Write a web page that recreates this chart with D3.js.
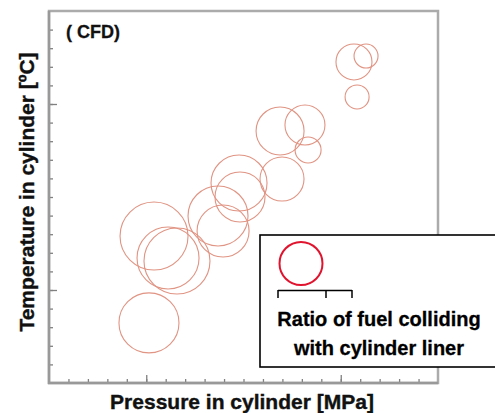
<!DOCTYPE html>
<html><head><meta charset="utf-8">
<script src="https://cdn.jsdelivr.net/npm/d3@7"></script>
<style>
html,body{margin:0;padding:0;background:#fff;}
text{font-family:"Liberation Sans",Arial,sans-serif;font-weight:bold;}
</style></head>
<body><svg id="c" width="495" height="413"></svg>
<script>
// pressure (arbitrary units, minor tick = 1)
const pressure = [5.14, 5.40, 6.12, 6.58, 8.69, 8.95, 9.77, 9.82, 11.98, 11.88, 13.16, 13.32, 15.68, 16.30, 15.84];
// temperature (arbitrary units, minor tick = 1)
const temperature = [3.23, 7.90, 6.72, 6.56, 8.98, 8.17, 10.75, 10.00, 10.97, 13.55, 13.87, 12.53, 17.26, 17.58, 15.38];
// ratio of fuel colliding with cylinder liner (%)
const ratio = [60, 68, 62, 66, 60, 52, 56, 50, 44, 48, 40, 26, 36, 24, 24];
const minorTicks = d3.range(1, 20);
const majorTicks = [5, 15];
const legendRatio = 43;
const legendBracket = [0, 48, 74];
const xTitle = "Pressure in cylinder [MPa]";
const yTitle = "Temperature in cylinder [ºC]";
const tag = "( CFD)";
const legendLines = ["Ratio of fuel colliding", "with cylinder liner"];

const svg = d3.select("#c");
const L = 49, R = 438, T = 11, B = 383;
const x = d3.scaleLinear().domain([0, 20]).range([L, R]);
const y = d3.scaleLinear().domain([0, 20]).range([B, T]);
const r = d3.scaleLinear().domain([0, 100]).range([0, 50]);

// frame
svg.append("rect").attr("x", L).attr("y", T).attr("width", R - L).attr("height", B - T)
  .attr("fill", "#fff").attr("stroke", "#ababab").attr("stroke-width", 2.5);

// axes ticks (inside)
const axisColor = "#808080";
function styleAxis(g) {
  g.select(".domain").remove();
  g.selectAll("line").attr("stroke", axisColor).attr("stroke-width", 1.3);
}
svg.append("g").attr("transform", `translate(${L},0)`)
  .call(d3.axisLeft(y).tickValues(minorTicks).tickSize(-4).tickFormat("")).call(styleAxis);
svg.append("g").attr("transform", `translate(${L},0)`)
  .call(d3.axisLeft(y).tickValues(majorTicks).tickSize(-8).tickFormat("")).call(styleAxis);
svg.append("g").attr("transform", `translate(0,${B})`)
  .call(d3.axisBottom(x).tickValues(minorTicks).tickSize(-4).tickFormat("")).call(styleAxis);
svg.append("g").attr("transform", `translate(0,${B})`)
  .call(d3.axisBottom(x).tickValues(majorTicks).tickSize(-8).tickFormat("")).call(styleAxis);
svg.append("line").attr("x1", L).attr("x2", L).attr("y1", T).attr("y2", B + 1)
  .attr("stroke", "#999").attr("stroke-width", 2.5);
svg.append("line").attr("x1", L - 1).attr("x2", R).attr("y1", B).attr("y2", B)
  .attr("stroke", "#999").attr("stroke-width", 2.5);

// bubbles
svg.append("g").selectAll("circle").data(pressure).join("circle")
  .attr("cx", (d, i) => x(d)).attr("cy", (d, i) => y(temperature[i]))
  .attr("r", (d, i) => r(ratio[i]))
  .attr("fill", "none").attr("stroke", "#e09483").attr("stroke-width", 1.1);

// tag
svg.append("text").attr("x", 66).attr("y", 38).attr("font-size", 18).attr("fill", "#111")
  .attr("stroke", "#111").attr("stroke-width", 0.3).text(tag);

// axis titles
svg.append("text").attr("x", 242).attr("y", 409).attr("text-anchor", "middle")
  .attr("font-size", 21).attr("fill", "#111").attr("stroke", "#111").attr("stroke-width", 0.4).text(xTitle);
svg.append("text").attr("transform", "translate(34,192) rotate(-90)").attr("text-anchor", "middle")
  .attr("font-size", 21).attr("fill", "#111").attr("stroke", "#111").attr("stroke-width", 0.4).text(yTitle);

// legend
const lg = svg.append("g");
lg.append("rect").attr("x", 260).attr("y", 235).attr("width", 245).attr("height", 132)
  .attr("fill", "#fff").attr("stroke", "#000").attr("stroke-width", 1.6);
lg.append("circle").attr("cx", 301).attr("cy", 263.5).attr("r", r(legendRatio))
  .attr("fill", "none").attr("stroke", "#e0142e").attr("stroke-width", 2);
const bx = d3.scaleLinear().domain([0, 100]).range([278, 378]);
lg.append("line").attr("x1", bx(legendBracket[0])).attr("x2", bx(legendBracket[legendBracket.length - 1]))
  .attr("y1", 290.5).attr("y2", 290.5).attr("stroke", "#000").attr("stroke-width", 1.5);
lg.selectAll(".bt").data(legendBracket).join("line")
  .attr("x1", d => bx(d)).attr("x2", d => bx(d)).attr("y1", 290).attr("y2", 298)
  .attr("stroke", "#000").attr("stroke-width", 1.5);
lg.selectAll(".lt").data(legendLines).join("text")
  .attr("x", 379).attr("y", (d, i) => 326 + i * 29).attr("text-anchor", "middle")
  .attr("font-size", 20).attr("fill", "#000").attr("stroke", "#000").attr("stroke-width", 0.3).text(d => d);
</script></body></html>
